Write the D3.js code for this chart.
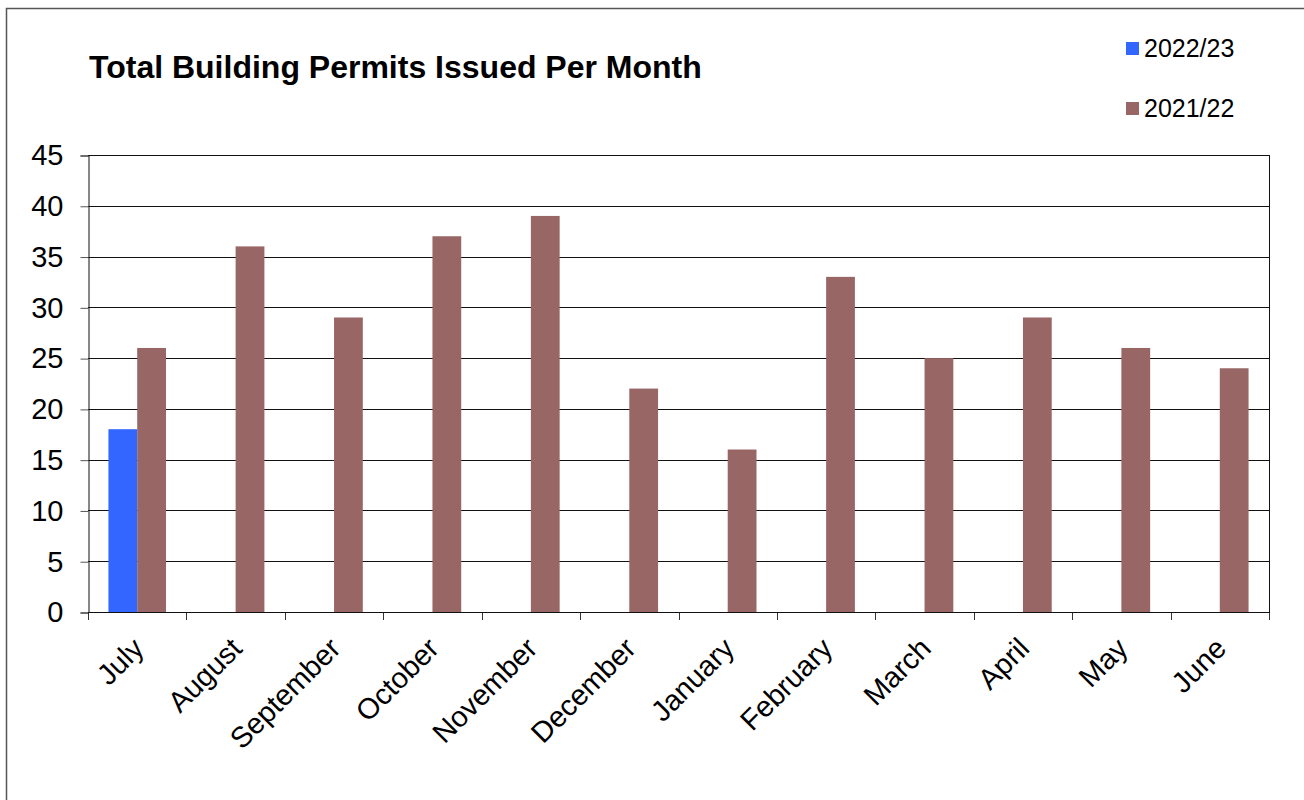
<!DOCTYPE html>
<html>
<head>
<meta charset="utf-8">
<script src="https://cdn.jsdelivr.net/npm/d3@7"></script>
<style>
  html, body { margin: 0; padding: 0; background: #fff; }
  svg { display: block; font-family: "Liberation Sans", Arial, sans-serif; }
</style>
</head>
<body>
<svg id="chart" width="1304" height="800"></svg>
<script>
// Monthly building permit counts, financial year July–June
const months = ["July", "August", "September", "October", "November", "December",
                "January", "February", "March", "April", "May", "June"];
const seriesNames = ["2022/23", "2021/22"];
const permits2022_23 = [18, null, null, null, null, null, null, null, null, null, null, null];
const permits2021_22 = [26, 36, 29, 37, 39, 22, 16, 33, 25, 29, 26, 24];
const yTicks = [0, 5, 10, 15, 20, 25, 30, 35, 40, 45];
const seriesColors = ["#3366FF", "#996666"];

const svg = d3.select("#chart");

// outer frame (runs off the right and bottom edges)
svg.append("rect")
  .attr("x", 6.5).attr("y", 8.5)
  .attr("width", 1400).attr("height", 900)
  .attr("fill", "#fff").attr("stroke", "#555").attr("stroke-width", 1.5);

const plot = { left: 88, right: 1269, top: 155, bottom: 612 };

const x = d3.scaleBand()
  .domain(months)
  .range([plot.left, plot.right])
  .paddingInner(0).paddingOuter(0);

const inner = d3.scaleBand()
  .domain(seriesNames)
  .range([0, x.bandwidth()])
  .paddingInner(0)
  .paddingOuter(0.71);

const y = d3.scaleLinear().domain([0, 45]).range([plot.bottom, plot.top]);

// gridlines
svg.append("g")
  .selectAll("line")
  .data(yTicks)
  .join("line")
  .attr("x1", plot.left).attr("x2", plot.right)
  .attr("y1", d => Math.round(y(d)) + 0.5).attr("y2", d => Math.round(y(d)) + 0.5)
  .attr("stroke", "#111").attr("stroke-width", 1);

// y axis
const yAxis = svg.append("g")
  .attr("transform", `translate(${plot.left + 0.5},0.5)`)
  .call(d3.axisLeft(y).tickValues(yTicks).tickSize(8).tickPadding(10));
yAxis.select(".domain").attr("stroke", "#111");
yAxis.selectAll(".tick line").attr("stroke", "#555");
yAxis.selectAll(".tick text")
  .attr("font-size", 29).attr("fill", "#000")
  .attr("font-family", "Liberation Sans, Arial, sans-serif")
  .attr("x", -25);

// right border of plot
svg.append("line")
  .attr("x1", plot.right + 0.5).attr("x2", plot.right + 0.5)
  .attr("y1", plot.top).attr("y2", plot.bottom)
  .attr("stroke", "#111");

// x axis ticks at band boundaries
const boundaries = months.map(m => x(m)).concat([plot.right]);
svg.append("g")
  .selectAll("line")
  .data(boundaries)
  .join("line")
  .attr("x1", d => Math.round(d) + 0.5).attr("x2", d => Math.round(d) + 0.5)
  .attr("y1", plot.bottom).attr("y2", plot.bottom + 8)
  .attr("stroke", "#333");
svg.append("line")
  .attr("x1", plot.left).attr("x2", plot.right + 1)
  .attr("y1", plot.bottom + 0.5).attr("y2", plot.bottom + 0.5)
  .attr("stroke", "#111");

// bars
const rows = months.map((m, i) => ({ month: m, values: [permits2022_23[i], permits2021_22[i]] }));
const groups = svg.append("g")
  .selectAll("g")
  .data(rows)
  .join("g")
  .attr("transform", d => `translate(${x(d.month)},0)`);
groups.selectAll("rect")
  .data(d => d.values.map((v, k) => ({ key: seriesNames[k], value: v, k })).filter(e => e.value != null))
  .join("rect")
  .attr("x", d => inner(d.key))
  .attr("width", inner.bandwidth())
  .attr("y", d => y(d.value))
  .attr("height", d => y(0) - y(d.value))
  .attr("fill", d => seriesColors[d.k]);

// month labels
svg.append("g")
  .selectAll("text")
  .data(months)
  .join("text")
  .attr("transform", d => `translate(${x(d) + x.bandwidth() / 2 + 1},${plot.bottom + 31}) rotate(-45)`)
  .attr("text-anchor", "end")
  .attr("dy", "0.35em")
  .attr("font-size", 29)
  .attr("fill", "#000")
  .text(d => d);

// title
svg.append("text")
  .attr("x", 89).attr("y", 78)
  .attr("font-size", 32).attr("font-weight", "bold")
  .attr("fill", "#000")
  .text("Total Building Permits Issued Per Month");

// legend
const legend = svg.append("g")
  .selectAll("g")
  .data(seriesNames)
  .join("g")
  .attr("transform", (d, i) => `translate(1126,${42 + i * 60})`);
legend.append("rect")
  .attr("width", 13).attr("height", 13)
  .attr("fill", (d, i) => seriesColors[i]);
legend.append("text")
  .attr("x", 18).attr("y", 15)
  .attr("font-size", 25)
  .attr("fill", "#000")
  .text(d => d);
</script>
</body>
</html>
